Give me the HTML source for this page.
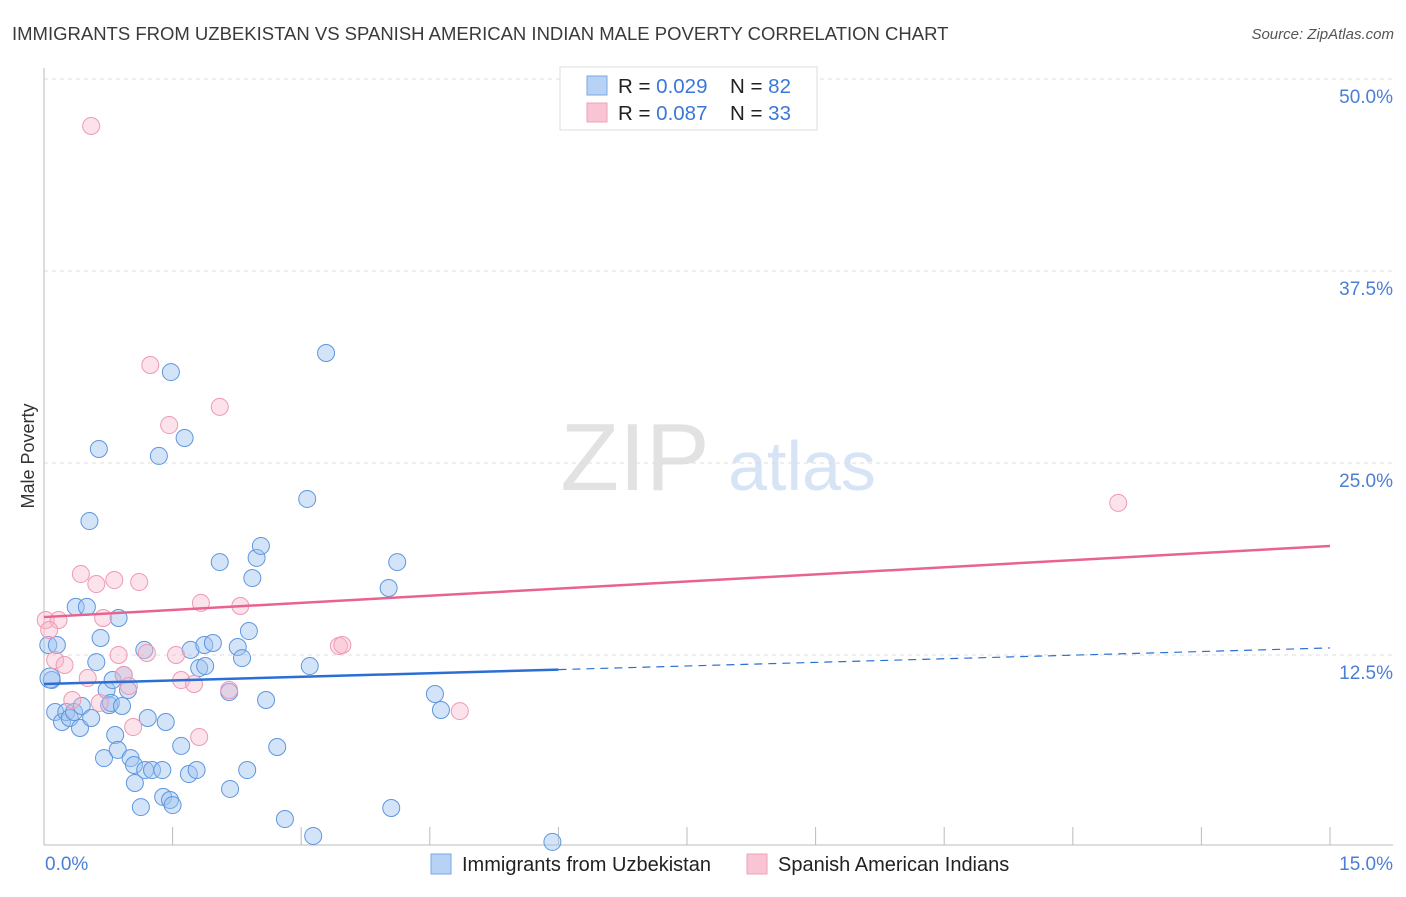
<!DOCTYPE html>
<html><head><meta charset="utf-8"><style>
body{margin:0;background:#fff;font-family:"Liberation Sans",sans-serif;}
svg text{font-family:"Liberation Sans",sans-serif;}
</style></head><body>
<svg id="chart" width="1406" height="892" xmlns="http://www.w3.org/2000/svg">
<text x="12" y="40" font-size="18.5" fill="#3a3a3a">IMMIGRANTS FROM UZBEKISTAN VS SPANISH AMERICAN INDIAN MALE POVERTY CORRELATION CHART</text>
<text x="1394" y="39" font-size="15" fill="#555" font-style="italic" text-anchor="end">Source: ZipAtlas.com</text>
<g>
<text x="635" y="490" font-size="96" fill="#e2e2e2" font-family="Liberation Serif" text-anchor="middle">ZIP</text>
<text x="802" y="490" font-size="70" fill="#d6e4f5" text-anchor="middle">atlas</text>
</g>
<g id="grid"></g>
<g id="axes"></g>
<g id="marks"></g>
<text transform="translate(34,456) rotate(-90)" font-size="18" fill="#333" text-anchor="middle">Male Poverty</text>
<text x="45" y="870" font-size="19" fill="#4a7fd4">0.0%</text>
<text x="1393" y="870" font-size="19" fill="#4a7fd4" text-anchor="end">15.0%</text>
<g>
<rect x="560" y="67" width="257" height="63" fill="#fff" stroke="#ddd"/>
<rect x="587" y="76" width="20" height="19" fill="#b6d2f5" stroke="#7aa8e4"/>
<rect x="587" y="103" width="20" height="19" fill="#f9c4d4" stroke="#eea3bb"/>
<text x="618" y="93" font-size="20.5" fill="#222">R = <tspan fill="#3a78d8">0.029</tspan></text>
<text x="730" y="93" font-size="20.5" fill="#222">N = <tspan fill="#3a78d8">82</tspan></text>
<text x="618" y="120" font-size="20.5" fill="#222">R = <tspan fill="#3a78d8">0.087</tspan></text>
<text x="730" y="120" font-size="20.5" fill="#222">N = <tspan fill="#3a78d8">33</tspan></text>
</g>
<g>
<rect x="431" y="854" width="20" height="20" fill="#b6d2f5" stroke="#7aa8e4"/>
<text x="462" y="871" font-size="20" fill="#222">Immigrants from Uzbekistan</text>
<rect x="747" y="854" width="20" height="20" fill="#f9c4d4" stroke="#eea3bb"/>
<text x="778" y="871" font-size="20" fill="#222">Spanish American Indians</text>
</g>
</svg>
<script>
const yTicks=[12.5,25,37.5,50];
const yTickLabels=["12.5%","25.0%","37.5%","50.0%"];
const xTicks=[0,1.5,3,4.5,6,7.5,9,10.5,12,13.5,15];
const blueX=[.05,.09,.13,.15,.21,.26,.30,.35,.37,.42,.44,.50,.53,.55,.61,.64,.66,.70,.73,.76,.78,.80,.83,.86,.87,.91,.93,.98,1.01,1.05,1.06,1.13,1.17,1.18,1.21,1.26,1.34,1.38,1.39,1.42,1.47,1.48,1.50,1.60,1.64,1.69,1.71,1.78,1.81,1.87,1.88,1.97,2.05,2.16,2.17,2.26,2.31,2.37,2.39,2.43,2.48,2.53,2.59,2.72,2.81,3.07,3.10,3.14,3.29,4.02,4.05,4.12,4.56,4.63,5.93,.07];
const blueY=[13.15,10.87,8.79,13.15,8.14,8.79,8.40,8.79,15.63,7.75,9.18,15.63,21.22,8.40,12.04,25.91,13.61,5.79,10.22,9.24,9.38,10.87,7.29,6.32,14.91,9.18,11.20,10.22,5.79,5.34,4.17,2.60,12.83,5.01,8.40,5.01,25.46,5.01,3.26,8.14,3.06,30.92,2.73,6.58,26.63,4.75,12.83,5.01,11.65,13.15,11.78,13.28,18.55,10.09,3.78,13.02,12.30,5.01,14.06,17.51,18.82,19.60,9.57,6.51,1.82,22.66,11.78,0.72,32.16,16.86,2.54,18.55,9.96,8.92,0.33,11.0];
const pinkX=[.55,1.24,1.46,2.05,.43,.61,.82,1.11,.02,.17,.69,1.83,2.29,.13,.24,.06,.87,1.20,1.54,1.60,1.75,2.16,.93,.99,.33,.65,1.04,1.81,3.44,3.48,4.85,12.53,.51];
const pinkY=[46.94,31.38,27.47,28.65,17.77,17.12,17.38,17.25,14.78,14.78,14.91,15.89,15.69,12.17,11.85,14.13,12.50,12.63,12.50,10.87,10.61,10.22,11.20,10.48,9.57,9.38,7.81,7.16,13.09,13.15,8.85,22.40,11.0];
const blueTrend=[10.61,12.96];
const pinkTrend=[14.97,19.6];
const NS="http://www.w3.org/2000/svg";
const X0=44,X1=1330,Y0=847,PX=15.36;
function sx(v){return X0+v*(X1-X0)/15;}
function sy(v){return Y0-v*PX;}
function mk(tag,attrs,parent){const e=document.createElementNS(NS,tag);for(const k in attrs)e.setAttribute(k,attrs[k]);document.getElementById(parent).appendChild(e);return e;}
yTicks.forEach((t,i)=>{
 const l=mk('line',{x1:44,x2:1393,y1:sy(t),y2:sy(t),stroke:'#ddd','stroke-dasharray':'4,4'},'grid');
 
 
 const tx=mk('text',{x:1393,y:sy(t)+24,'font-size':19,fill:'#4a7fd4','text-anchor':'end'},'grid');
 tx.textContent=yTickLabels[i];
 
 
});
const ax=mk('line',{x1:44,x2:44,y1:68,y2:845,stroke:'#bbb'},'axes');


const bx=mk('line',{x1:44,x2:1393,y1:845,y2:845,stroke:'#bbb'},'axes');


xTicks.forEach(t=>{
 const l=mk('line',{x1:sx(t),x2:sx(t),y1:827,y2:845,stroke:'#bbb'},'axes');
 
 
});
blueX.forEach((x,i)=>{
 const c=mk('circle',{cx:sx(x),cy:sy(blueY[i]),r:i==blueX.length-1?10:8.5,fill:'rgba(160,196,240,0.45)',stroke:'#5e96de','stroke-width':1},'marks');
 
 
});
pinkX.forEach((x,i)=>{
 const c=mk('circle',{cx:sx(x),cy:sy(pinkY[i]),r:8.5,fill:'rgba(248,182,202,0.4)',stroke:'#ee9ab4','stroke-width':1},'marks');
 
 
});
function ty(tr,x){return tr[0]+(tr[1]-tr[0])*x/15;}
const b1=mk('line',{x1:sx(0),y1:sy(ty(blueTrend,0)),x2:sx(6),y2:sy(ty(blueTrend,6)),stroke:'#2a6fd6','stroke-width':2.5},'marks');


const b2=mk('line',{x1:sx(6),y1:sy(ty(blueTrend,6)),x2:sx(15),y2:sy(ty(blueTrend,15)),stroke:'#2a6fd6','stroke-width':1.2,'stroke-dasharray':'8,6'},'marks');


const p1=mk('line',{x1:sx(0),y1:sy(pinkTrend[0]),x2:sx(15),y2:sy(pinkTrend[1]),stroke:'#e8648e','stroke-width':2.5},'marks');


</script>
</body></html>
